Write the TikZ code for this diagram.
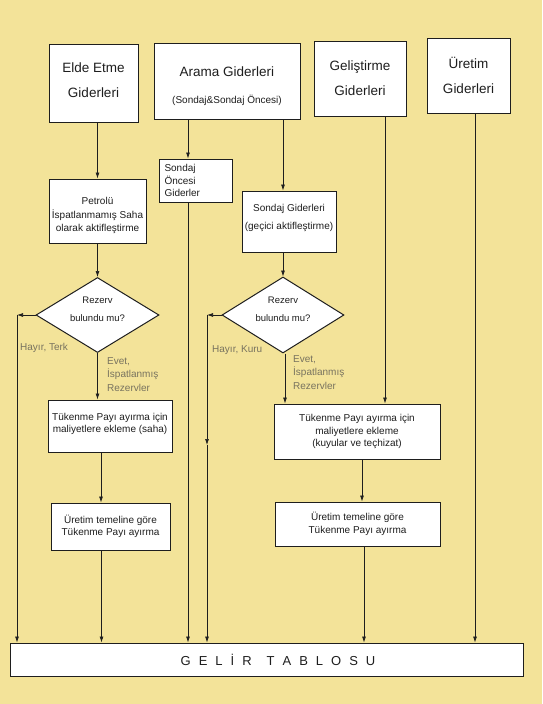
\documentclass[tikz,border=0pt]{standalone}
\usepackage{fontspec}
\setmainfont{Liberation Sans}
\usetikzlibrary{shapes.geometric,arrows.meta}
\definecolor{bg}{HTML}{F3E399}
\definecolor{lab}{RGB}{120,115,95}
\definecolor{ink}{RGB}{30,30,30}
\newcommand\fbig{\fontsize{13.5}{25}\selectfont}
\newcommand\fsub{\fontsize{10}{12}\selectfont}
\newcommand\fmid{\fontsize{10}{12.5}\selectfont}
\newcommand\flab{\fontsize{10}{13.5}\selectfont}
\newcommand\fdia{\fontsize{9.5}{18}\selectfont}
\newcommand\fgel{\fontsize{13}{15}\selectfont\spaceskip=8pt\relax}
\begin{document}
\begin{tikzpicture}[x=1pt,y=-1pt,
 box/.style={draw=ink,line width=1pt,fill=white,rectangle,inner sep=2pt,align=center,text=ink},
 dia/.style={draw=ink,line width=1pt,fill=white,diamond,inner sep=0pt,shape aspect=1.6,align=center,font=\fdia,text=ink},
 arr/.style={draw=ink,line width=0.7pt,-{Latex[length=6pt,width=4pt]}},
 lbl/.style={text=lab,font=\flab,align=left,inner sep=0pt}]
\fill[bg] (0,0) rectangle (542,704);
\useasboundingbox (0,0) rectangle (542,704);

% top row
\node[box,font=\fbig,minimum width=89pt,minimum height=78pt] (elde) at (93.5,83) {Elde Etme\\Giderleri\\[-20pt]\mbox{}};
\node[box,font=\fbig,minimum width=146pt,minimum height=76pt] (arama) at (227,81) {\mbox{}\\[-4pt]Arama Giderleri\\[2pt]{\fsub(Sondaj\&Sondaj Öncesi)}};
\node[box,font=\fbig,minimum width=92pt,minimum height=75pt] (gelis) at (360,78.5) {Geliştirme\\Giderleri};
\node[box,font=\fbig,minimum width=83pt,minimum height=75pt] (uretim) at (468.5,75.5) {Üretim\\Giderleri};

% second row
\node[box,font=\flab,minimum width=97pt,minimum height=64pt] (petrol) at (97.5,211) {\mbox{}\\[3pt]Petrolü\\İspatlanmamış Saha\\olarak aktifleştirme};
\node[box,font=\fmid,align=left,minimum width=73pt,minimum height=43pt,text width=62pt] (soncesi) at (195.5,180.5) {Sondaj\\Öncesi\\Giderler};
\node[box,font=\fmid,minimum width=94pt,minimum height=61pt] (sgider) at (289,221.5) {Sondaj Giderleri\\[5.5pt](geçici aktifleştirme)\\[-3.5pt]\mbox{}};

% diamonds
\node[dia,minimum width=123pt,minimum height=75pt] (d1) at (97.5,315) {Rezerv\\bulundu mu?\\[-6pt]\mbox{}};
\node[dia,minimum width=122pt,minimum height=76pt] (d2) at (283,315) {Rezerv\\bulundu mu?\\[-6pt]\mbox{}};

% lower boxes
\node[box,font=\fmid,minimum width=124pt,minimum height=52pt] (tukL) at (110,426) {Tükenme Payı ayırma için\\maliyetlere ekleme (saha)\\[-6pt]\mbox{}};
\node[box,font=\fmid,minimum width=119pt,minimum height=47pt] (urtL) at (110.5,526.5) {Üretim temeline göre\\Tükenme Payı ayırma};
\node[box,font=\fmid,minimum width=166pt,minimum height=55pt] (tukR) at (357,431.5) {Tükenme Payı ayırma için\\maliyetlere ekleme\\(kuyular ve teçhizat)};
\node[box,font=\fmid,minimum width=165pt,minimum height=44pt] (urtR) at (357.5,524) {Üretim temeline göre\\Tükenme Payı ayırma};

% income statement
\node[box,font=\fgel,minimum width=513pt,minimum height=33pt] (gelir) at (266.5,659.5) {\hspace{23pt}G E L İ R\hspace{15pt}T A B L O S U};

% loop corners
\coordinate (loopL) at (17,315);
\coordinate (loopR) at (207,315);
\coordinate (loopRmid) at (207,445);

% labels
\node[lbl,anchor=west] (hterk) at (20,348) {Hayır, Terk};
\node[lbl,anchor=west] (hkuru) at (212,350) {Hayır, Kuru};
\node[lbl,anchor=north west] (evet1) at (107,357) {Evet,\\İspatlanmış\\Rezervler};
\node[lbl,anchor=north west] (evet2) at (293,355) {Evet,\\İspatlanmış\\Rezervler};

% left column connectors
\draw[arr] (elde.south -| d1.north) -- (petrol.north -| d1.north);
\draw[arr] (petrol.south -| d1.north) -- (d1.north);
\draw[arr] (d1.south) -- (d1.south |- tukL.north);
\draw[arr] ([xshift=-9pt]tukL.south) -- ([xshift=-9pt]tukL.south |- urtL.north);
\draw[arr] ([xshift=-9pt]urtL.south) -- ([xshift=-9pt]urtL.south |- gelir.north);
\draw[arr] (d1.west) -- (loopL);
\draw[arr] (loopL) -- (loopL |- gelir.north);

% exploration column connectors
\draw[arr] (arama.south -| soncesi.north) ++(-7.5,0) -- ([xshift=-7.5pt]soncesi.north);
\draw[arr] ([xshift=-7.5pt]soncesi.south) -- ([xshift=-7.5pt]soncesi.south |- gelir.north);
\draw[arr] (arama.south -| d2.north) -- (sgider.north -| d2.north);
\draw[arr] (sgider.south -| d2.north) -- (d2.north);
\draw[arr] (d2.west) -- (loopR);
\draw[arr] (loopR) -- (loopRmid);
\draw[arr] (loopRmid) -- (loopRmid |- gelir.north);
\draw[arr] ([xshift=2pt]d2.south) -- ([xshift=2pt]d2.south |- tukR.north);

% development and production
\draw[arr] ([xshift=25pt]gelis.south) -- ([xshift=25pt]gelis.south |- tukR.north);
\draw[arr] ([xshift=5pt]tukR.south) -- ([xshift=5pt]tukR.south |- urtR.north);
\draw[arr] ([xshift=6.5pt]urtR.south) -- ([xshift=6.5pt]urtR.south |- gelir.north);
\draw[arr] ([xshift=6.5pt]uretim.south) -- ([xshift=6.5pt]uretim.south |- gelir.north);
\end{tikzpicture}
\end{document}
